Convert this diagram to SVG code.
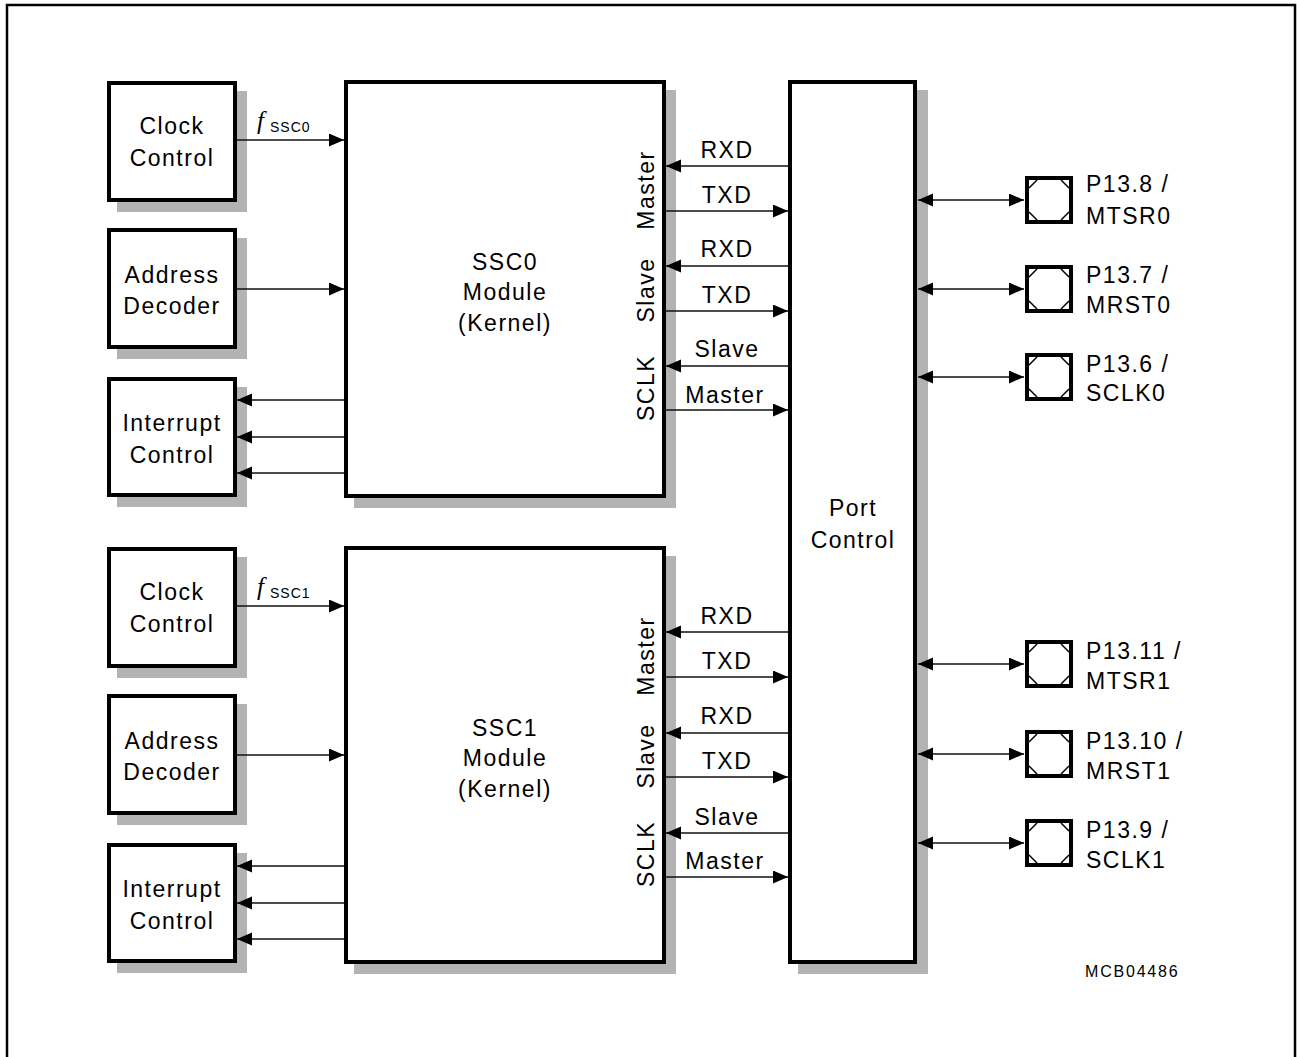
<svg xmlns="http://www.w3.org/2000/svg" width="1297" height="1057" viewBox="0 0 1297 1057">
<style>
.box{fill:#fff;stroke:#000;stroke-width:4}
.sh{fill:#b3b3b3}
.t{font-family:"Liberation Sans",Arial,sans-serif;font-size:23px;letter-spacing:1.5px;fill:#000}
.c{text-anchor:middle}
.ln{stroke:#111;stroke-width:1.4;fill:none}
.pin{fill:#fff;stroke:#000;stroke-width:4}
.pc{stroke:#000;stroke-width:1.5}
</style>
<defs>
<marker id="ah" markerUnits="userSpaceOnUse" markerWidth="16" markerHeight="14" refX="15" refY="6.5" orient="auto-start-reverse">
<path d="M0,0 L15,6.5 L0,13 z" fill="#000"/>
</marker>
</defs>
<rect x="7" y="5" width="1288" height="1060" fill="none" stroke="#000" stroke-width="2.5"/>

<!-- shadows -->
<g id="shadows">
<rect class="sh" x="117" y="91" width="130" height="121"/>
<rect class="sh" x="117" y="238" width="130" height="121"/>
<rect class="sh" x="117" y="387" width="130" height="120"/>
<rect class="sh" x="354" y="90" width="322" height="418"/>
<rect class="sh" x="117" y="557" width="130" height="121"/>
<rect class="sh" x="117" y="704" width="130" height="121"/>
<rect class="sh" x="117" y="853" width="130" height="120"/>
<rect class="sh" x="354" y="556" width="322" height="418"/>
<rect class="sh" x="798" y="90" width="130" height="884"/>
</g>

<g id="clock0"><rect class="box" x="109" y="83" width="126" height="117"/><text class="t c" x="172" y="134">Clock</text><text class="t c" x="172" y="166">Control</text></g>
<g id="addr0"><rect class="box" x="109" y="230" width="126" height="117"/><text class="t c" x="172" y="283">Address</text><text class="t c" x="172" y="314">Decoder</text></g>
<g id="int0"><rect class="box" x="109" y="379" width="126" height="116"/><text class="t c" x="172" y="431">Interrupt</text><text class="t c" x="172" y="463">Control</text></g>
<g id="ssc0"><rect class="box" x="346" y="82" width="318" height="414"/>
<text class="t c" x="505" y="270">SSC0</text><text class="t c" x="505" y="300">Module</text><text class="t c" x="505" y="331">(Kernel)</text>
<text class="t c" transform="translate(654,190) rotate(-90)">Master</text>
<text class="t c" transform="translate(654,290) rotate(-90)">Slave</text>
<text class="t c" transform="translate(654,388) rotate(-90)">SCLK</text>
</g>

<g id="clock1"><rect class="box" x="109" y="549" width="126" height="117"/><text class="t c" x="172" y="600">Clock</text><text class="t c" x="172" y="632">Control</text></g>
<g id="addr1"><rect class="box" x="109" y="696" width="126" height="117"/><text class="t c" x="172" y="749">Address</text><text class="t c" x="172" y="780">Decoder</text></g>
<g id="int1"><rect class="box" x="109" y="845" width="126" height="116"/><text class="t c" x="172" y="897">Interrupt</text><text class="t c" x="172" y="929">Control</text></g>
<g id="ssc1"><rect class="box" x="346" y="548" width="318" height="414"/>
<text class="t c" x="505" y="736">SSC1</text><text class="t c" x="505" y="766">Module</text><text class="t c" x="505" y="797">(Kernel)</text>
<text class="t c" transform="translate(654,656) rotate(-90)">Master</text>
<text class="t c" transform="translate(654,756) rotate(-90)">Slave</text>
<text class="t c" transform="translate(654,854) rotate(-90)">SCLK</text>
</g>

<g id="port"><rect class="box" x="790" y="82" width="125" height="880"/><text class="t c" x="853" y="516">Port</text><text class="t c" x="853" y="548">Control</text></g>

<g id="pins">
<g id="pin8"><rect class="pin" x="1027" y="178" width="44" height="44"/><path class="pc" d="M1029,188 L1037,180 M1061,180 L1069,188 M1069,212 L1061,220 M1037,220 L1029,212"/><text class="t" x="1086" y="192">P13.8 /</text><text class="t" x="1086" y="224">MTSR0</text></g>
<g id="pin7"><rect class="pin" x="1027" y="267" width="44" height="44"/><path class="pc" d="M1029,277 L1037,269 M1061,269 L1069,277 M1069,301 L1061,309 M1037,309 L1029,301"/><text class="t" x="1086" y="283">P13.7 /</text><text class="t" x="1086" y="313">MRST0</text></g>
<g id="pin6"><rect class="pin" x="1027" y="355" width="44" height="44"/><path class="pc" d="M1029,365 L1037,357 M1061,357 L1069,365 M1069,389 L1061,397 M1037,397 L1029,389"/><text class="t" x="1086" y="372">P13.6 /</text><text class="t" x="1086" y="401">SCLK0</text></g>
<g id="pin11"><rect class="pin" x="1027" y="642" width="44" height="44"/><path class="pc" d="M1029,652 L1037,644 M1061,644 L1069,652 M1069,676 L1061,684 M1037,684 L1029,676"/><text class="t" x="1086" y="659">P13.11 /</text><text class="t" x="1086" y="689">MTSR1</text></g>
<g id="pin10"><rect class="pin" x="1027" y="732" width="44" height="44"/><path class="pc" d="M1029,742 L1037,734 M1061,734 L1069,742 M1069,766 L1061,774 M1037,774 L1029,766"/><text class="t" x="1086" y="749">P13.10 /</text><text class="t" x="1086" y="779">MRST1</text></g>
<g id="pin9"><rect class="pin" x="1027" y="821" width="44" height="44"/><path class="pc" d="M1029,831 L1037,823 M1061,823 L1069,831 M1069,855 L1061,863 M1037,863 L1029,855"/><text class="t" x="1086" y="838">P13.9 /</text><text class="t" x="1086" y="868">SCLK1</text></g>
</g>

<g id="connectors">
<line class="ln" x1="237" y1="140" x2="344" y2="140" marker-end="url(#ah)"/>
<line class="ln" x1="237" y1="289" x2="344" y2="289" marker-end="url(#ah)"/>
<line class="ln" x1="344" y1="400" x2="237" y2="400" marker-end="url(#ah)"/>
<line class="ln" x1="344" y1="437" x2="237" y2="437" marker-end="url(#ah)"/>
<line class="ln" x1="344" y1="473" x2="237" y2="473" marker-end="url(#ah)"/>
<line class="ln" x1="237" y1="606" x2="344" y2="606" marker-end="url(#ah)"/>
<line class="ln" x1="237" y1="755" x2="344" y2="755" marker-end="url(#ah)"/>
<line class="ln" x1="344" y1="866" x2="237" y2="866" marker-end="url(#ah)"/>
<line class="ln" x1="344" y1="903" x2="237" y2="903" marker-end="url(#ah)"/>
<line class="ln" x1="344" y1="939" x2="237" y2="939" marker-end="url(#ah)"/>

<line class="ln" x1="788" y1="166" x2="666" y2="166" marker-end="url(#ah)"/>
<line class="ln" x1="666" y1="211" x2="788" y2="211" marker-end="url(#ah)"/>
<line class="ln" x1="788" y1="266" x2="666" y2="266" marker-end="url(#ah)"/>
<line class="ln" x1="666" y1="311" x2="788" y2="311" marker-end="url(#ah)"/>
<line class="ln" x1="788" y1="366" x2="666" y2="366" marker-end="url(#ah)"/>
<line class="ln" x1="666" y1="410" x2="788" y2="410" marker-end="url(#ah)"/>
<line class="ln" x1="788" y1="632" x2="666" y2="632" marker-end="url(#ah)"/>
<line class="ln" x1="666" y1="677" x2="788" y2="677" marker-end="url(#ah)"/>
<line class="ln" x1="788" y1="733" x2="666" y2="733" marker-end="url(#ah)"/>
<line class="ln" x1="666" y1="777" x2="788" y2="777" marker-end="url(#ah)"/>
<line class="ln" x1="788" y1="833" x2="666" y2="833" marker-end="url(#ah)"/>
<line class="ln" x1="666" y1="877" x2="788" y2="877" marker-end="url(#ah)"/>

<line class="ln" x1="918" y1="200" x2="1024" y2="200" marker-start="url(#ah)" marker-end="url(#ah)"/>
<line class="ln" x1="918" y1="289" x2="1024" y2="289" marker-start="url(#ah)" marker-end="url(#ah)"/>
<line class="ln" x1="918" y1="377" x2="1024" y2="377" marker-start="url(#ah)" marker-end="url(#ah)"/>
<line class="ln" x1="918" y1="664" x2="1024" y2="664" marker-start="url(#ah)" marker-end="url(#ah)"/>
<line class="ln" x1="918" y1="754" x2="1024" y2="754" marker-start="url(#ah)" marker-end="url(#ah)"/>
<line class="ln" x1="918" y1="843" x2="1024" y2="843" marker-start="url(#ah)" marker-end="url(#ah)"/>
</g>

<g id="labels">
<text x="257" y="129" font-family="'Liberation Serif',serif" font-style="italic" font-size="25">f</text>
<text x="270" y="132" font-family="'Liberation Sans',sans-serif" font-size="14" letter-spacing="1">SSC0</text>
<text x="257" y="595" font-family="'Liberation Serif',serif" font-style="italic" font-size="25">f</text>
<text x="270" y="598" font-family="'Liberation Sans',sans-serif" font-size="14" letter-spacing="1">SSC1</text>
<text class="t c" x="727" y="158">RXD</text>
<text class="t c" x="727" y="203">TXD</text>
<text class="t c" x="727" y="257">RXD</text>
<text class="t c" x="727" y="303">TXD</text>
<text class="t c" x="727" y="357">Slave</text>
<text class="t c" x="725" y="403">Master</text>
<text class="t c" x="727" y="624">RXD</text>
<text class="t c" x="727" y="669">TXD</text>
<text class="t c" x="727" y="724">RXD</text>
<text class="t c" x="727" y="769">TXD</text>
<text class="t c" x="727" y="825">Slave</text>
<text class="t c" x="725" y="869">Master</text>
<text x="1085" y="977" font-family="'Liberation Sans',sans-serif" font-size="16" letter-spacing="1.8">MCB04486</text>
</g>
</svg>
